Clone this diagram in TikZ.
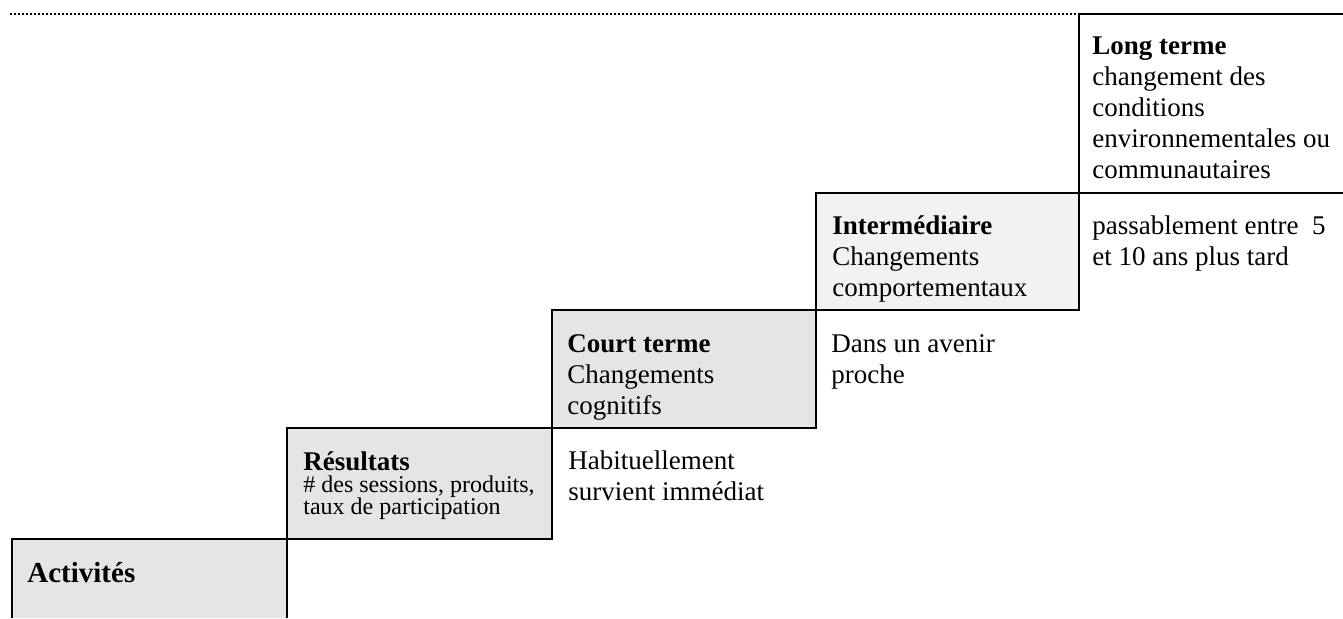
\documentclass[tikz,border=0pt]{standalone}
\usepackage{fontspec}
\setmainfont{Liberation Serif}
\newcommand{\cellstack}[1]{\begin{tabular}[t]{@{}l@{}}#1\end{tabular}}
\begin{document}
\begin{tikzpicture}[x=0.5pt,y=-0.5pt,
  frame/.style={draw=black, line width=0.6pt},
  darkfill/.style={fill=gray!20},
  lightfill/.style={fill=gray!10},
  dotline/.style={line width=1.4pt, dash pattern=on 1.1pt off 0.9pt},
  txt/.style={anchor=base west, inner sep=0pt, font=\fontsize{13.5}{15.5}\selectfont},
  smalltxt/.style={anchor=base west, inner sep=0pt, font=\fontsize{12}{10.5}\selectfont}]
\useasboundingbox (0,0) rectangle (1343,618);
% boxes
\fill[darkfill] (12,539) rectangle (287,618);
\draw[frame] (12,618) -- (12,539) -- (287,539) -- (287,618);
\filldraw[frame, darkfill] (287,428) rectangle (552,539);
\filldraw[frame, darkfill] (552,310) rectangle (816,428);
\filldraw[frame, lightfill] (816,193) rectangle (1079,310);
\draw[frame] (816,193) -- (1343,193);
\draw[frame] (1079,193) -- (1079,14) -- (1343,14);
\draw[dotline] (10,14) -- (1079,14);
% texts
\node[txt, font=\fontsize{14.5}{16}\selectfont\bfseries] (act) at (27,582) {Activités};
\node[txt] (res) at (303,470) {\textbf{Résultats}};
\node[smalltxt] (resb) at (303,492) {\cellstack{\# des sessions, produits,\\taux de participation}};
\node[txt] (hab) at (568,469) {\cellstack{Habituellement\\survient immédiat}};
\node[txt] (court) at (567,352) {\cellstack{\textbf{Court terme}\\Changements\\cognitifs}};
\node[txt] (dans) at (831,352) {\cellstack{Dans un avenir\\proche}};
\node[txt] (inter) at (832,234) {\cellstack{\textbf{Intermédiaire}\\Changements\\comportementaux}};
\node[txt] (pass) at (1092,234) {\cellstack{passablement entre\ \ 5\\et 10 ans plus tard}};
\node[txt] (long) at (1092,54) {\cellstack{\textbf{Long terme}\\changement des\\conditions\\environnementales ou\\communautaires}};
\end{tikzpicture}
\end{document}
